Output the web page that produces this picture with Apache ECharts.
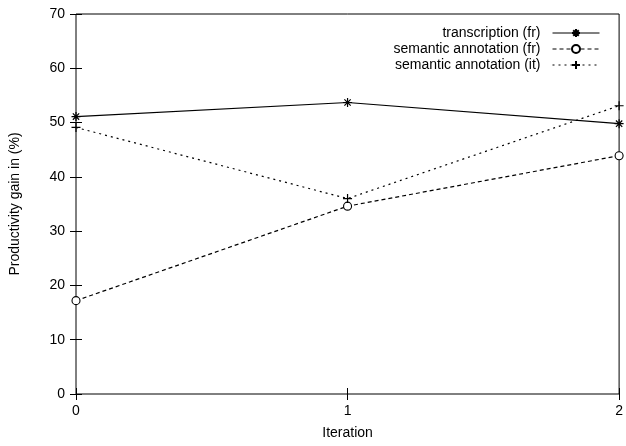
<!DOCTYPE html>
<html>
<head>
<meta charset="utf-8">
<script src="https://cdn.jsdelivr.net/npm/echarts@6/dist/echarts.min.js"></script>
<style>html,body{margin:0;padding:0;background:#fff}#c{width:626px;height:446px}</style>
</head>
<body>
<div id="c"></div>
<script>
var iterations = [0, 1, 2];
var transcriptionFr = [51.1, 53.7, 49.8];
var semanticFr = [17.2, 34.6, 43.9];
var semanticIt = [49.1, 36.0, 53.1];
var yTicks = [0, 10, 20, 30, 40, 50, 60, 70];

var FONT = 'Liberation Sans';
var STAR = 'path://M0,5L10,5M5,0L5,10M1.5,1.5L8.5,8.5M8.5,1.5L1.5,8.5';
var PLUS = 'path://M0,5L10,5M5,0L5,10';

function pairs(vals) { return iterations.map(function (x, i) { return [x, vals[i]]; }); }

var chart = echarts.init(document.getElementById('c'), null, { renderer: 'canvas' });
var axisCommon = {
  axisLine: { show: false },
  splitLine: { show: false },
  axisTick: { show: true, inside: true, length: 6, lineStyle: { color: '#000', width: 1 } }
};
chart.setOption({
  animation: false,
  backgroundColor: '#fff',
  textStyle: { fontFamily: FONT },
  grid: { left: 75, right: 4, top: 14, bottom: 52, show: true, borderColor: '#000', borderWidth: 1, backgroundColor: 'transparent' },
  legend: {
    orient: 'vertical', align: 'right', right: 26, top: 25, padding: 0,
    itemWidth: 47, itemHeight: 10, itemGap: 0,
    lineStyle: { width: 1 },
    textStyle: { fontFamily: FONT, fontSize: 14, color: '#000', lineHeight: 16, padding: [0, 7, 0, 0] },
    data: ['transcription (fr)', 'semantic annotation (fr)', 'semantic annotation (it)']
  },
  xAxis: [
    Object.assign({}, axisCommon, {
      type: 'value', min: 0, max: 2, interval: 1, position: 'bottom',
      name: 'Iteration', nameLocation: 'middle', nameGap: 32,
      nameTextStyle: { fontFamily: FONT, fontSize: 14, color: '#000' },
      axisLabel: { fontFamily: FONT, fontSize: 14, color: '#000', margin: 10 }
    }),
    Object.assign({}, axisCommon, {
      type: 'value', min: 0, max: 2, interval: 1, position: 'top',
      axisLabel: { show: false }
    })
  ],
  yAxis: [
    Object.assign({}, axisCommon, {
      type: 'value', min: 0, max: 70, interval: 10, position: 'left',
      name: 'Productivity gain in (%)', nameLocation: 'middle', nameGap: 54,
      nameTextStyle: { fontFamily: FONT, fontSize: 14, color: '#000' },
      axisLabel: { fontFamily: FONT, fontSize: 14, color: '#000', margin: 11,
        formatter: function (v) { return yTicks.indexOf(v) >= 0 ? String(v) : ''; } }
    }),
    Object.assign({}, axisCommon, {
      type: 'value', min: 0, max: 70, interval: 10, position: 'right',
      axisLabel: { show: false }
    })
  ],
  series: [
    {
      name: 'transcription (fr)', type: 'line', data: pairs(transcriptionFr),
      symbol: STAR, symbolSize: 9,
      lineStyle: { color: '#000', width: 1.2, type: 'solid' },
      itemStyle: { color: 'none', borderColor: '#000', borderWidth: 1.2 },
      emphasis: { disabled: true }
    },
    {
      name: 'semantic annotation (fr)', type: 'line', data: pairs(semanticFr),
      symbol: 'circle', symbolSize: 8,
      lineStyle: { color: '#000', width: 1.2, type: [4, 3] },
      itemStyle: { color: '#fff', borderColor: '#000', borderWidth: 1.1 },
      emphasis: { disabled: true }
    },
    {
      name: 'semantic annotation (it)', type: 'line', data: pairs(semanticIt),
      symbol: PLUS, symbolSize: 9,
      lineStyle: { color: '#000', width: 1.2, type: [2, 4] },
      itemStyle: { color: 'none', borderColor: '#000', borderWidth: 1.2 },
      emphasis: { disabled: true }
    }
  ]
});
</script>
</body>
</html>
